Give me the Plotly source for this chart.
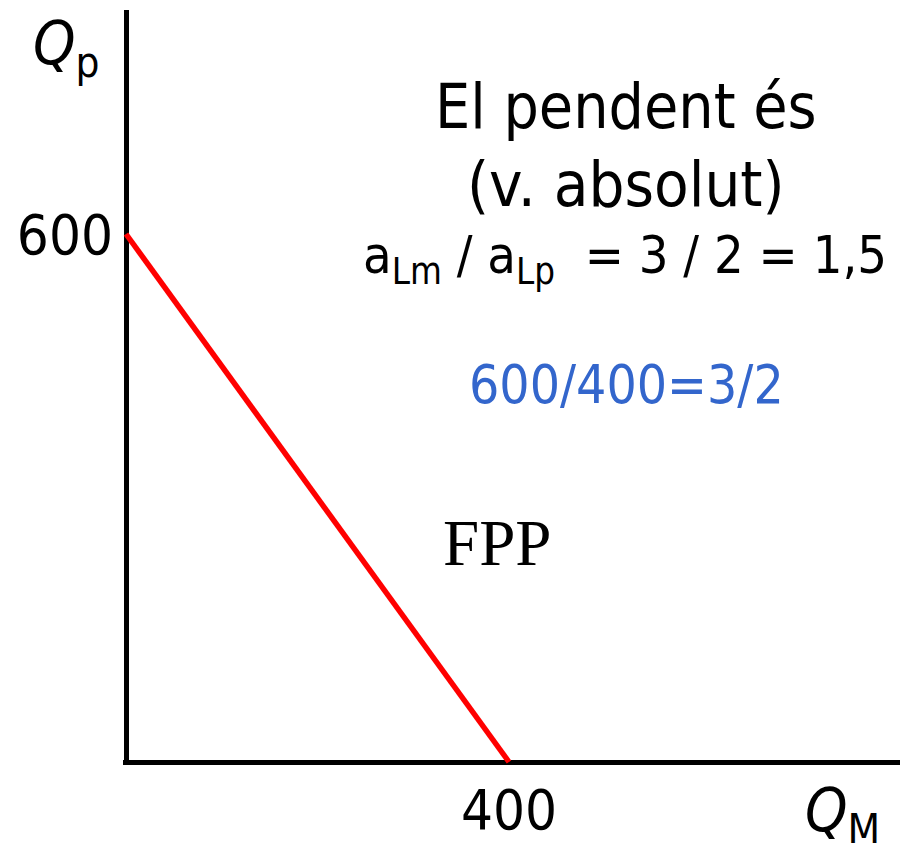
import plotly.graph_objects as go

# Data
fpp_x = [0, 400]
fpp_y = [600, 0]
x_ticks = [400]
x_ticktext = ["400"]
y_ticks = [600]
y_ticktext = ["600"]

# The page body has an 8px margin: the figure starts at page pixel (8, 8)
OFF = 8
W, H = 908 - OFF, 851 - 2 * OFF
# plot area in page pixels
L, R, T, B = 123, 908, 10, 765
xpx = 0.9575  # px per unit
ypx = 0.88

x_range = [-(126 - L) / xpx, (R - 126) / xpx]
y_range = [-(B - 762) / ypx, (762 - T) / ypx]

FONT = "DejaVu Sans Condensed, Open Sans, sans-serif"


def px(xp):
    return (xp - L) / (R - L)


def py(yp):
    return (B - yp) / (B - T)


fig = go.Figure()
fig.add_trace(go.Scatter(x=fpp_x, y=fpp_y, mode="lines",
                         line=dict(color="#ff0000", width=5.5),
                         hoverinfo="skip", showlegend=False))

annots = [
    dict(text="El pendent és", x=626, y=106, size=62, color="black", font=FONT),
    dict(text="(v. absolut)", x=626, y=185, size=63, color="black", font=FONT),
    dict(text="a<sub>Lm</sub> / a<sub>Lp</sub>  = 3 / 2 = 1,5", x=625, y=259, size=52, color="black", font=FONT),
    dict(text="600/400=3/2", x=626, y=384, size=53, color="#3366cc", font=FONT),
    dict(text="FPP", x=497, y=543, size=65, color="black", font="Liberation Serif, serif"),
    dict(text="<i>Q</i><sub>p</sub>", x=66, y=48, size=60, color="black", font=FONT),
    dict(text="<i>Q</i><sub>M</sub>", x=842, y=814, size=60, color="black", font=FONT),
]
for a in annots:
    fig.add_annotation(text=a["text"], x=px(a["x"]), y=py(a["y"]), xref="paper", yref="paper",
                       showarrow=False, xanchor="center", yanchor="middle",
                       font=dict(size=a["size"], color=a["color"], family=a["font"]))

fig.add_annotation(text=")", x=px(4), y=py(510), xref="paper", yref="paper",
                   showarrow=False, xanchor="right", yanchor="middle",
                   font=dict(size=58, color="black", family=FONT))

fig.update_layout(
    width=W, height=H,
    margin=dict(l=L - OFF, r=W - (R - OFF), t=T - OFF, b=H - (B - OFF), pad=0, autoexpand=False),
    paper_bgcolor="white", plot_bgcolor="white",
    showlegend=False,
    xaxis=dict(range=x_range, showgrid=False, zeroline=True, zerolinecolor="black",
               zerolinewidth=5, showline=False, tickvals=x_ticks, ticktext=x_ticktext,
               ticks="outside", ticklen=1, ticklabelstandoff=-5, tickcolor="rgba(0,0,0,0)",
               automargin=False,
               tickfont=dict(size=56, family=FONT, color="black"), fixedrange=True),
    yaxis=dict(range=y_range, showgrid=False, zeroline=True, zerolinecolor="black",
               zerolinewidth=5, showline=False, tickvals=y_ticks, ticktext=y_ticktext,
               ticks="", ticklabelstandoff=9, automargin=False,
               tickfont=dict(size=56, family=FONT, color="black"), fixedrange=True),
)

fig.write_html("out.html", config=dict(displayModeBar=False))
